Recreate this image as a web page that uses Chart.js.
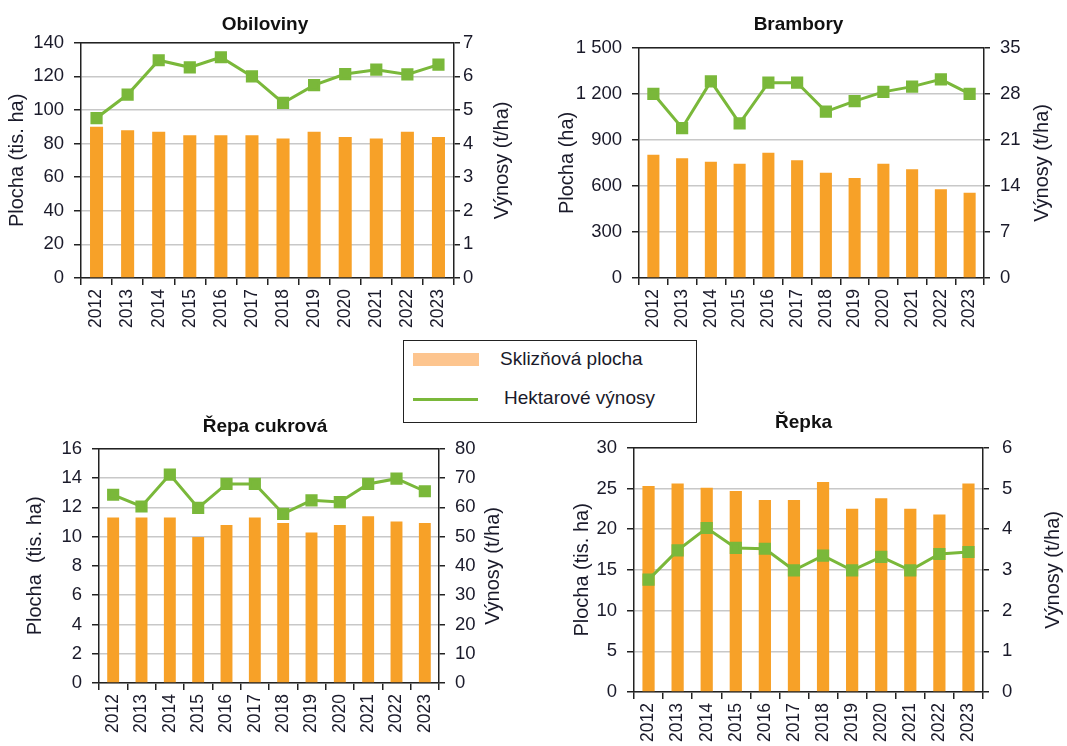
<!DOCTYPE html>
<html lang="cs">
<head>
<meta charset="UTF-8">
<title>Sklizňová plocha a hektarové výnosy</title>
<script src="https://cdn.jsdelivr.net/npm/chart.js"></script>
<style>
  body { margin: 0; background: #fff; font-family: "Liberation Sans", Arial, sans-serif; }
  #page { position: relative; width: 1067px; height: 746px; overflow: hidden; background: #fff; }
  .box { position: absolute; }
  #legend { position: absolute; left: 403px; top: 340px; width: 292px; height: 81px;
            border: 1.5px solid #222; background: #fff; color: #1a1a2a; font-size: 19px; }
  #legend .sw1 { position: absolute; left: 9px; top: 12px; width: 66px; height: 13px; background: #fdc58f; }
  #legend .sw2 { position: absolute; left: 9px; top: 57px; width: 65px; height: 3px; background: #7ab83a; }
  #legend .t1 { position: absolute; left: 96px; top: 7px; }
  #legend .t2 { position: absolute; left: 100px; top: 46px; }
</style>
</head>
<body>
<div id="page">
  <div class="box" id="b0"><canvas id="c0"></canvas></div>
  <div class="box" id="b1"><canvas id="c1"></canvas></div>
  <div class="box" id="b2"><canvas id="c2"></canvas></div>
  <div class="box" id="b3"><canvas id="c3"></canvas></div>
  <div id="legend">
    <div class="sw1"></div><div class="t1">Sklizňová plocha</div>
    <div class="sw2"></div><div class="t2">Hektarové výnosy</div>
  </div>
</div>

<script>
// data
const years = ['2012','2013','2014','2015','2016','2017','2018','2019','2020','2021','2022','2023'];

const obilovinyPlocha = [90, 88, 87, 85, 85, 85, 83, 87, 84, 83, 87, 84];
const obilovinyVynosy = [4.76, 5.46, 6.48, 6.27, 6.57, 6.0, 5.21, 5.74, 6.07, 6.2, 6.06, 6.35];

const bramboryPlocha = [803, 781, 758, 745, 816, 768, 686, 652, 745, 708, 578, 556];
const bramboryVynosy = [28.0, 22.8, 29.9, 23.5, 29.7, 29.7, 25.3, 26.9, 28.3, 29.1, 30.2, 28.0];

const repaPlocha = [11.3, 11.3, 11.3, 9.97, 10.8, 11.3, 10.93, 10.29, 10.79, 11.4, 11.04, 10.93];
const repaVynosy = [64.3, 60.3, 71.2, 59.8, 68.0, 68.0, 57.8, 62.4, 61.8, 68.0, 69.8, 65.5];

const repkaPlocha = [25.3, 25.6, 25.1, 24.7, 23.6, 23.6, 25.8, 22.5, 23.8, 22.5, 21.8, 25.6];
const repkaVynosy = [2.76, 3.48, 4.03, 3.54, 3.52, 2.99, 3.35, 2.99, 3.32, 2.99, 3.39, 3.44];

const nazvy = ['Obiloviny', 'Brambory', 'Řepa cukrová', 'Řepka'];
const osaPlocha = ['Plocha (tis. ha)', 'Plocha (ha)', 'Plocha  (tis. ha)', 'Plocha (tis. ha)'];
const osaVynosy = 'Výnosy (t/ha)';
const plochaMax = [140, 1500, 16, 30];
const plochaKrok = [20, 300, 2, 5];
const vynosyMax = [7, 35, 80, 6];
const vynosyKrok = [1, 7, 10, 1];

const plochy = [obilovinyPlocha, bramboryPlocha, repaPlocha, repkaPlocha];
const vynosy = [obilovinyVynosy, bramboryVynosy, repaVynosy, repkaVynosy];

// rozvržení jednotlivých grafů na stránce
const rozlozeni = [
  { left: 0,   top: 0,   w: 530, h: 340, yw: 81,  y1w: 76, xh: 62, tt: 13, tb: 7,  lx: 17, rx: 502, rp: 3 },
  { left: 530, top: 0,   w: 537, h: 340, yw: 109, y1w: 83, xh: 62, tt: 13, tb: 12, lx: 37, rx: 512, rp: 10 },
  { left: 0,   top: 400, w: 530, h: 346, yw: 99,  y1w: 91, xh: 63, tt: 15, tb: 11, lx: 35, rx: 493, rp: 10 },
  { left: 540, top: 400, w: 527, h: 346, yw: 94,  y1w: 84, xh: 54, tt: 11, tb: 14, lx: 42, rx: 513, rp: 13 }
];

const ORANZOVA = '#f7a128';
const ZELENA = '#7ab83a';
const FONT = '"Liberation Sans", Arial, sans-serif';

function mezery(v) {
  return String(v).replace(/\B(?=(\d{3})+(?!\d))/g, ' ');
}

// ramecek nahore a popisky os (prava osa cte se zdola nahoru)
const popiskyOs = {
  id: 'popiskyOs',
  beforeDatasetsDraw(chart) {
    const a = chart.chartArea, ctx = chart.ctx;
    ctx.save();
    ctx.strokeStyle = '#222';
    ctx.lineWidth = 1.5;
    ctx.beginPath();
    ctx.moveTo(a.left, a.top);
    ctx.lineTo(a.right, a.top);
    ctx.stroke();
    ctx.restore();
  },
  afterDraw(chart, args, o) {
    const a = chart.chartArea, ctx = chart.ctx;
    const cy = (a.top + a.bottom) / 2;
    ctx.save();
    ctx.font = '20px ' + FONT;
    ctx.fillStyle = '#1a1a2a';
    ctx.textAlign = 'center';
    ctx.textBaseline = 'middle';
    [[o.left, o.lx], [o.right, o.rx]].forEach(([t, x]) => {
      ctx.save();
      ctx.translate(x, cy);
      ctx.rotate(-Math.PI / 2);
      ctx.fillText(t, 0, 0);
      ctx.restore();
    });
    ctx.restore();
  }
};

function graf(i) {
  const g = rozlozeni[i];
  const box = document.getElementById('b' + i);
  box.style.left = g.left + 'px';
  box.style.top = g.top + 'px';
  box.style.width = g.w + 'px';
  box.style.height = g.h + 'px';

  new Chart(document.getElementById('c' + i), {
    type: 'bar',
    data: {
      labels: years,
      datasets: [{
        type: 'line',
        label: 'Hektarové výnosy',
        data: vynosy[i],
        yAxisID: 'y1',
        borderColor: ZELENA,
        backgroundColor: ZELENA,
        borderWidth: 3,
        pointStyle: 'rect',
        pointRadius: 6.5,
        pointHoverRadius: 6.5,
        tension: 0,
        order: 0
      }, {
        label: 'Sklizňová plocha',
        data: plochy[i],
        yAxisID: 'y',
        backgroundColor: ORANZOVA,
        barPercentage: 0.42,
        categoryPercentage: 1,
        order: 1
      }]
    },
    options: {
      responsive: true,
      maintainAspectRatio: false,
      animation: false,
      layout: { padding: 0 },
      plugins: {
        legend: { display: false },
        tooltip: { enabled: false },
        title: {
          display: true,
          text: nazvy[i],
          color: '#111',
          font: { family: FONT, size: 19, weight: 'bold', lineHeight: 1.2 },
          padding: { top: g.tt, bottom: g.tb }
        },
        popiskyOs: { left: osaPlocha[i], right: osaVynosy, lx: g.lx, rx: g.rx }
      },
      scales: {
        x: {
          afterFit(s) { s.height = g.xh; },
          grid: { drawOnChartArea: false, drawTicks: true, tickLength: 7, color: '#222', lineWidth: 1.5, offset: true },
          border: { color: '#222', width: 1.5 },
          ticks: { autoSkip: false, minRotation: 90, maxRotation: 90, padding: 4, color: '#1a1a2a',
                   font: { family: FONT, size: 17.5 } }
        },
        y: {
          position: 'left',
          min: 0,
          max: plochaMax[i],
          afterFit(s) { s.width = g.yw; },
          grid: { color: '#c8c8c8', lineWidth: 1.5, tickColor: '#222', tickLength: 7 },
          border: { color: '#222', width: 1.5 },
          ticks: { stepSize: plochaKrok[i], padding: 10, color: '#1a1a2a', font: { family: FONT, size: 18.5 },
                   callback: v => mezery(v) }
        },
        y1: {
          position: 'right',
          min: 0,
          max: vynosyMax[i],
          afterFit(s) { s.width = g.y1w; },
          grid: { drawOnChartArea: false, color: '#222', lineWidth: 1.5, tickLength: 6 },
          border: { color: '#222', width: 1.5 },
          ticks: { stepSize: vynosyKrok[i], padding: g.rp, color: '#1a1a2a', font: { family: FONT, size: 18.5 } }
        }
      }
    },
    plugins: [popiskyOs]
  });
}

for (let i = 0; i < 4; i++) graf(i);
</script>
</body>
</html>
